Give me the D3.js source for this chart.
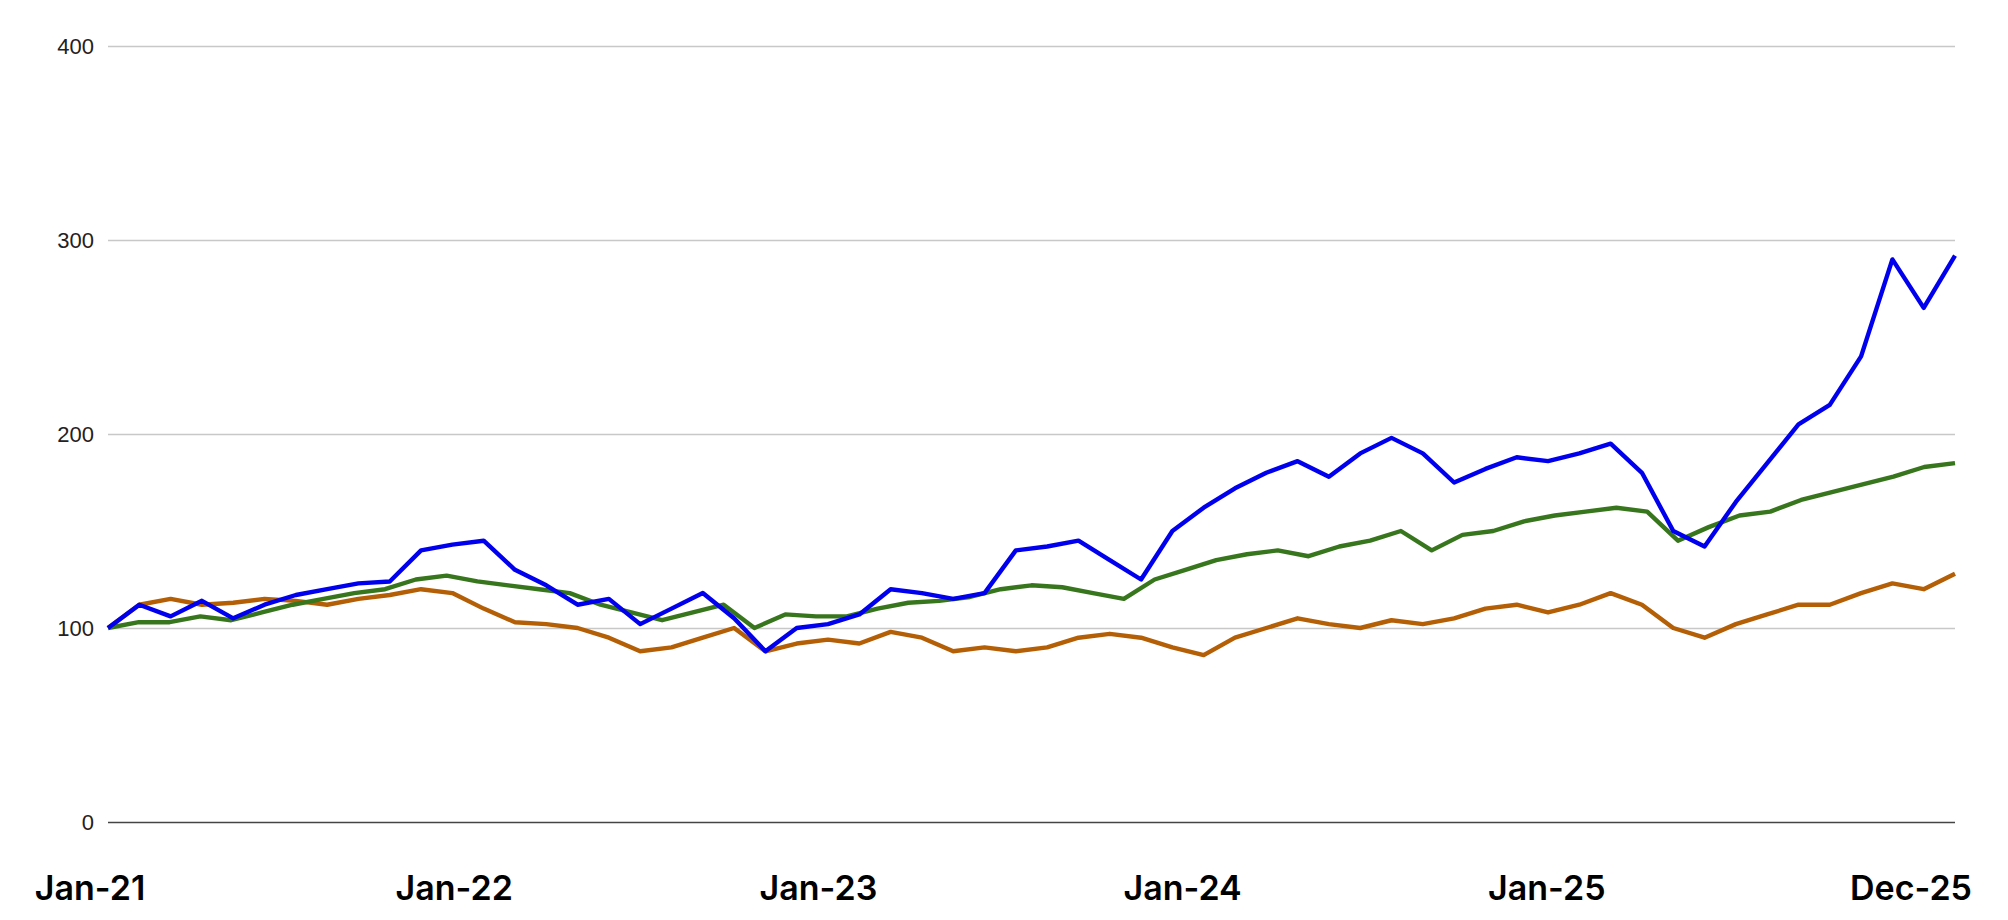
<!DOCTYPE html>
<html><head><meta charset="utf-8">
<script src="https://cdn.jsdelivr.net/npm/d3@7"></script>
<style>body{margin:0;background:#fff}</style></head>
<body><svg id="c" width="2008" height="920"></svg>
<script>
const startMonth = new Date(2021,0,1);
const blueValues = [100,112,106,114,105,112,117,120,123,124,140,143,145,130,122,112,115,102,110,118,105,88,100,102,107,120,118,115,118,140,142,145,135,125,150,162,172,180,186,178,190,198,190,175,182,188,186,190,195,180,150,142,165,185,205,215,240,290,265,292];
const greenValues = [100,103,103,106,104,108,112,115,118,120,125,127,124,122,120,118,112,108,104,108,112,100,107,106,106,110,113,114,116,120,122,121,118,115,125,130,135,138,140,137,142,145,150,140,148,150,155,158,160,162,160,145,152,158,160,166,170,174,178,183,185];
const orangeValues = [100,112,115,112,113,115,114,112,115,117,120,118,110,103,102,100,95,88,90,95,100,88,92,94,92,98,95,88,90,88,90,95,97,95,90,86,95,100,105,102,100,104,102,105,110,112,108,112,118,112,100,95,102,107,112,112,118,123,120,128];
const yTicks = [0,100,200,300,400];
const xLabels = ["Jan-21","Jan-22","Jan-23","Jan-24","Jan-25","Dec-25"];

const svg = d3.select("#c");
const L=108, R=1955, T=46, B=822;
const dates = blueValues.map((_,i)=>d3.timeMonth.offset(startMonth,i));
const x = d3.scaleTime().domain([dates[0], dates[dates.length-1]]).range([L,R]);
const y = d3.scaleLinear().domain([0,400]).range([B,T]);

const ax = svg.append("g").attr("transform",`translate(${L},0)`)
  .call(d3.axisLeft(y).tickValues(yTicks).tickSize(-(R-L)).tickPadding(14));
ax.select(".domain").remove();
ax.selectAll(".tick line").attr("stroke",d=>d===0?"#444":"#c8c8c8").attr("stroke-width",d=>d===0?1.6:1.3);
ax.selectAll(".tick text").attr("font-family","Liberation Sans, Arial").attr("font-size",22).attr("fill","#222");

const lx = d3.scalePoint().domain(xLabels).range([90,1911]);
svg.selectAll(".xl").data(xLabels).enter().append("text")
  .attr("x",d=>lx(d)).attr("y",900).attr("text-anchor","middle")
  .attr("font-family","Inter, Roboto, sans-serif").attr("font-weight",600).attr("font-size",34).attr("fill","#000")
  .text(d=>d);

const line = d3.line().x((d,i)=>x(d3.timeMonth.offset(startMonth,i*(59/(d.length?1:1))/ (59) * 59))).y(d=>y(d));
const mk = v => d3.line().x((d,i)=>x(new Date(+dates[0] + (dates[dates.length-1]-dates[0])*i/(v.length-1)))).y(d=>y(d));
[[orangeValues,"#b45f06"],[greenValues,"#38761d"],[blueValues,"#0000ee"]].forEach(([v,c])=>{
  svg.append("path").datum(v).attr("d",mk(v)).attr("fill","none").attr("stroke",c).attr("stroke-width",4.4).attr("stroke-linejoin","round");
});
</script></body></html>
